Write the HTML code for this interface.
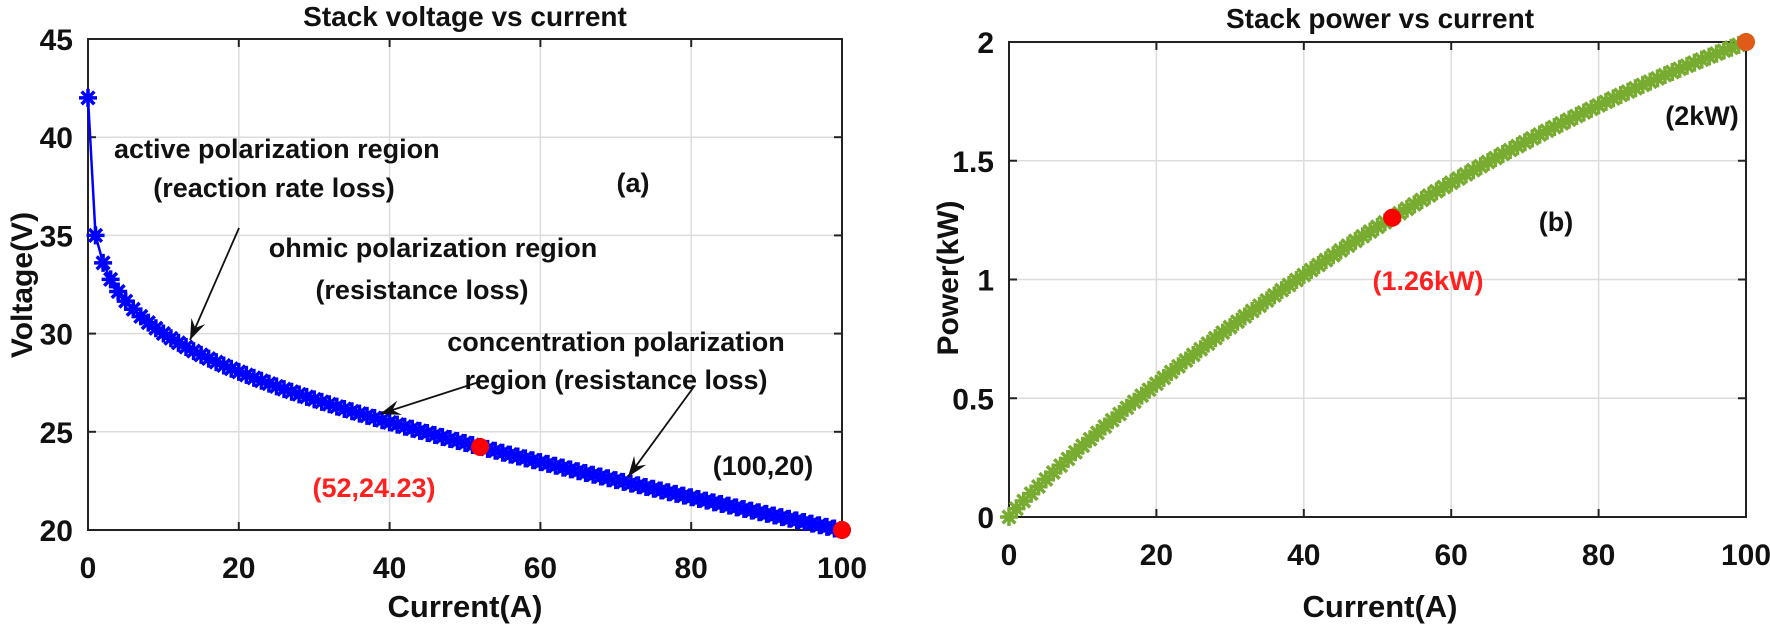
<!DOCTYPE html>
<html><head><meta charset="utf-8"><style>
html,body{margin:0;padding:0;background:#fff;}
svg{display:block;font-family:"Liberation Sans",Arial,sans-serif;font-weight:bold;}
</style></head><body>
<svg id="s" width="1770" height="631" viewBox="0 0 1770 631" xmlns="http://www.w3.org/2000/svg">
</svg>
<script>
const NS="http://www.w3.org/2000/svg";
const s=document.getElementById('s');
function el(t,a,txt){const e=document.createElementNS(NS,t);for(const k in a)e.setAttribute(k,a[k]);if(txt!==undefined)e.textContent=txt;s.appendChild(e);return e;}
function V(I){return I<=0?42:35.062-1.927*Math.log(I)-0.0619*I;}
const LA={x0:88,x1:842,y0:39,y1:530};
const lx=I=>LA.x0+I*(LA.x1-LA.x0)/100, ly=v=>LA.y0+(45-v)*(LA.y1-LA.y0)/25;
const RA={x0:1009,x1:1746,y0:42,y1:517};
const rx=I=>RA.x0+I*(RA.x1-RA.x0)/100, ry=p=>RA.y1-p*(RA.y1-RA.y0)/2;
function axes(A,xs,ys,fx,fy){
  xs.forEach(v=>{const x=fx(v);if(x>A.x0+1&&x<A.x1-1){el('line',{x1:x,y1:A.y0,x2:x,y2:A.y1,stroke:'#dcdcdc','stroke-width':1.5});}});
  ys.forEach(v=>{const y=fy(v);if(y>A.y0+1&&y<A.y1-1){el('line',{x1:A.x0,y1:y,x2:A.x1,y2:y,stroke:'#dcdcdc','stroke-width':1.5});}});
  el('rect',{x:A.x0,y:A.y0,width:A.x1-A.x0,height:A.y1-A.y0,fill:'none',stroke:'#222','stroke-width':2});
  xs.forEach(v=>{const x=fx(v);el('line',{x1:x,y1:A.y1,x2:x,y2:A.y1-8,stroke:'#222','stroke-width':2});el('line',{x1:x,y1:A.y0,x2:x,y2:A.y0+8,stroke:'#222','stroke-width':2});
    el('text',{x:x,y:A.y1+48,'text-anchor':'middle','font-size':30,fill:'#111'},String(v));});
  ys.forEach(v=>{const y=fy(v);el('line',{x1:A.x0,y1:y,x2:A.x0+8,y2:y,stroke:'#222','stroke-width':2});el('line',{x1:A.x1,y1:y,x2:A.x1-8,y2:y,stroke:'#222','stroke-width':2});
    el('text',{x:A.x0-15,y:y+11,'text-anchor':'end','font-size':30,fill:'#111'},String(v));});
}
axes(LA,[0,20,40,60,80,100],[20,25,30,35,40,45],lx,ly);
axes(RA,[0,20,40,60,80,100],[0,0.5,1,1.5,2],rx,ry);
el('text',{x:465,y:26,'text-anchor':'middle','font-size':28,fill:'#111'},'Stack voltage vs current');
el('text',{x:1380,y:28,'text-anchor':'middle','font-size':28,fill:'#111'},'Stack power vs current');
el('text',{x:465,y:617,'text-anchor':'middle','font-size':31,fill:'#111'},'Current(A)');
el('text',{x:1380,y:617,'text-anchor':'middle','font-size':31,fill:'#111'},'Current(A)');
el('text',{x:0,y:0,'text-anchor':'middle','font-size':30,fill:'#111',transform:'translate(32,285) rotate(-90)'},'Voltage(V)');
el('text',{x:0,y:0,'text-anchor':'middle','font-size':30,fill:'#111',transform:'translate(958,278) rotate(-90)'},'Power(kW)');
function star(x,y,c,r,w){let d='';for(let k=0;k<4;k++){const a=k*Math.PI/4;d+=`M${x-r*Math.cos(a)},${y-r*Math.sin(a)}L${x+r*Math.cos(a)},${y+r*Math.sin(a)}`;}el('path',{d:d,stroke:c,'stroke-width':w,fill:'none'});}
let pts=[];for(let I=0;I<=100;I++)pts.push(lx(I)+','+ly(V(I)));
el('polyline',{points:pts.join(' '),fill:'none',stroke:'#0000ff','stroke-width':2.5});
for(let I=0;I<=100;I++)star(lx(I),ly(V(I)),'#0000ff',9,3.5);
pts=[];for(let I=0;I<=100;I++)pts.push(rx(I)+','+ry(V(I)*I/1000));
el('polyline',{points:pts.join(' '),fill:'none',stroke:'#77ac30','stroke-width':2.5});
for(let I=0;I<=100;I++)star(rx(I),ry(V(I)*I/1000),'#77ac30',9,3.5);
el('circle',{cx:lx(52),cy:ly(V(52)),r:9,fill:'#ff0000'});
el('circle',{cx:lx(100),cy:ly(20),r:9,fill:'#ff0000'});
el('circle',{cx:rx(52),cy:ry(1.26),r:9,fill:'#ff0000'});
el('circle',{cx:rx(100),cy:ry(2),r:9,fill:'#e05a1a'});
const T=(x,y,t,c,a)=>el('text',{x:x,y:y,'text-anchor':a||'middle','font-size':27,fill:c||'#111'},t);
T(114,158,'active polarization region','#111','start');
T(274,197,'(reaction rate loss)');
T(633,192,'(a)');
T(433,257,'ohmic polarization region');
T(422,299,'(resistance loss)');
T(616,351,'concentration polarization');
T(616,389,'region (resistance loss)');
T(763,475,'(100,20)');
T(374,497,'(52,24.23)','#ff2020');
T(1556,231,'(b)');
T(1428,290,'(1.26kW)','#ff2020');
T(1702,125,'(2kW)');
function arrow(x1,y1,x2,y2){el('line',{x1:x1,y1:y1,x2:x2,y2:y2,stroke:'#111','stroke-width':1.8});
 const a=Math.atan2(y2-y1,x2-x1),H=22,w=0.35;
 const p1=[x2-H*Math.cos(a-w),y2-H*Math.sin(a-w)],p2=[x2-H*Math.cos(a+w),y2-H*Math.sin(a+w)],m=[x2-H*0.6*Math.cos(a),y2-H*0.6*Math.sin(a)];
 el('path',{d:`M${x2},${y2}L${p1}L${m}L${p2}Z`,fill:'#111'});}
arrow(239,228,190,340);
arrow(479,382,380,414);
arrow(693,388,628,477);
</script>
</body></html>
